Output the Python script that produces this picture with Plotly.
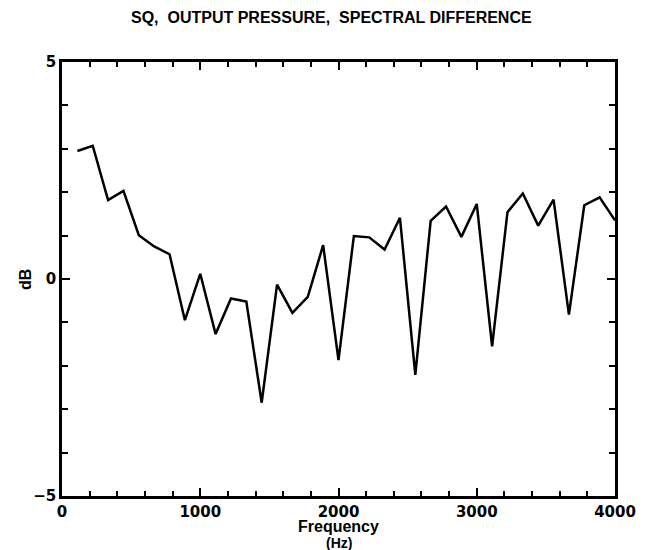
"""SQ, output pressure, spectral difference"""
import plotly.graph_objects as go

# donnees
n_points = 36
freq_hz = [k * 4000 / n_points for k in range(1, n_points + 1)]
diff_db = [2.95, 3.07, 1.82, 2.03, 1.01, 0.75, 0.57, -0.95, 0.12, -1.27,
           -0.45, -0.52, -2.85, -0.13, -0.78, -0.41, 0.78, -1.87, 0.99, 0.96,
           0.68, 1.41, -2.21, 1.34, 1.67, 0.97, 1.73, -1.55, 1.54, 1.97,
           1.23, 1.83, -0.82, 1.70, 1.88, 1.35]
x_ticks = [0, 1000, 2000, 3000, 4000]
y_ticks = [-5, 0, 5]

fig = go.Figure()
fig.add_trace(go.Scatter(x=freq_hz, y=diff_db, mode="lines",
                         line=dict(color="black", width=2.5),
                         showlegend=False))

tick_font = dict(family="DejaVu Sans, Arial, sans-serif", size=15, color="black")
label_font = dict(family="Liberation Sans, Arial, sans-serif", size=16, color="black")

# la page ajoute 8 px de marge autour de la figure : on compense
fig.update_layout(
    width=639, height=542,
    paper_bgcolor="white", plot_bgcolor="white",
    margin=dict(l=54, r=32, t=54, b=54),
    title=dict(text="<b>SQ,  OUTPUT PRESSURE,  SPECTRAL DIFFERENCE</b>",
               x=0.506, xanchor="center", y=0.983, yanchor="middle",
               font=dict(family="Liberation Sans, Arial", size=16, color="black")),
    xaxis=dict(range=[0, 4000], tickvals=x_ticks,
               ticktext=["<b>%d</b>" % v for v in x_ticks],
               ticks="inside", ticklen=8, tickwidth=2, tickcolor="black",
               minor=dict(dtick=200, ticks="inside", ticklen=5, tickwidth=2,
                         tickcolor="black"),
               showline=True, linewidth=2.5, linecolor="black", mirror="ticks",
               showgrid=False, zeroline=False, tickfont=tick_font,
               automargin=False),
    yaxis=dict(range=[-5, 5], tickvals=y_ticks,
               ticktext=["<b>%s</b>" % ("\u22125" if v == -5 else str(v)) for v in y_ticks],
               ticks="inside", ticklen=8, tickwidth=2, tickcolor="black",
               minor=dict(dtick=1, ticks="inside", ticklen=6, tickwidth=2,
                          tickcolor="black"),
               showline=True, linewidth=2.5, linecolor="black", mirror="ticks",
               showgrid=False, zeroline=False, tickfont=tick_font,
               automargin=False),
    annotations=[
        dict(text="<b>Frequency</b>", x=0.5, y=-0.07, xref="paper", yref="paper",
             xanchor="center", yanchor="middle", showarrow=False, font=label_font),
        dict(text="<b>(Hz)</b>", x=0.5, y=-0.108, xref="paper", yref="paper",
             xanchor="center", yanchor="middle", showarrow=False,
             font=dict(family="Liberation Sans, Arial, sans-serif", size=14, color="black")),
        dict(text="<b>dB</b>", x=-0.067, y=0.5, xref="paper", yref="paper",
             xanchor="center", yanchor="middle", textangle=-90, showarrow=False,
             font=label_font),
    ],
)

fig.write_html("out.html")
